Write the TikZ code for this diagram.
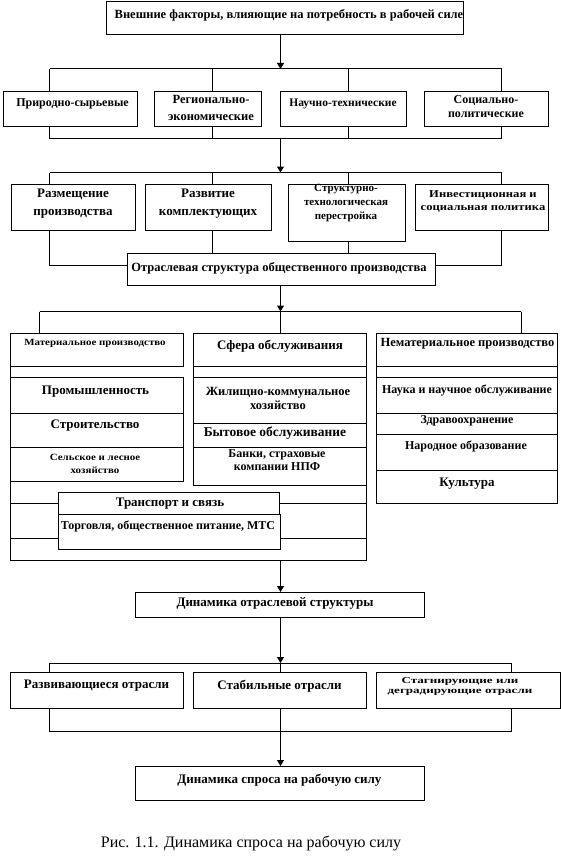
\documentclass[tikz,border=0pt]{standalone}
\usepackage{fontspec}
\setmainfont{Liberation Serif}
\newfontfamily\stA[FakeStretch=1.15]{Liberation Serif}
\newfontfamily\stB[FakeStretch=1.2]{Liberation Serif}
\newfontfamily\stC[FakeStretch=1.45]{Liberation Serif}
\usetikzlibrary{arrows.meta}
\tikzset{
  bx/.style={draw, line width=1pt, fill=white, inner sep=0pt, outer sep=0pt},
  ln/.style={line width=1pt},
  arr/.style={line width=1pt, -{Triangle[width=7pt,length=6pt]}},
  tx/.style={inner sep=0pt, align=center}
}
\newcommand\fs[2]{\fontsize{#1}{#2}\selectfont}
\newcommand\mkbox[5]{\node[bx,anchor=north west,minimum width={#4-#2},minimum height={#5-#3}] (#1) at (#2,#3) {};}
\begin{document}
\begin{tikzpicture}[x=1pt,y=-1pt]
\useasboundingbox (0,0) rectangle (561,864);
% ---------- top ----------
\mkbox{top}{106}{2}{463}{35}
\node[tx,font=\bfseries\fs{12.5}{14}] (topt) at (289,15) {Внешние факторы, влияющие на потребность в рабочей силе};
% ---------- row 2 ----------
\mkbox{ra}{3}{92}{137}{126.5}
\mkbox{rb}{154}{92}{261}{126.5}
\mkbox{rc}{280.5}{92}{406}{126.5}
\mkbox{rd}{424.5}{92}{548.5}{126.5}
\node[tx,font=\bfseries\fs{12}{14}] (rat) at (72.5,104) {Природно-сырьевые};
\node[tx,font=\bfseries\fs{12.5}{17}] (rbt) at (211,108) {Регионально-\\экономические};
\node[tx,font=\bfseries\fs{11.5}{14}] (rct) at (343,104) {Научно-технические};
\node[tx,font=\bfseries\fs{12}{14}] (rdt) at (486,106.3) {Социально-\\политические};
% bars 1,2
\coordinate (b1l) at (49.5,69); \coordinate (b1b) at (212.5,69); \coordinate (b1) at (280.5,69);
\coordinate (b1c) at (348,69); \coordinate (b1r) at (501.7,69);
\draw[arr] (top.south -| b1) -- (b1);
\draw[ln] (b1l) -- (b1r);
\draw[ln] (b1l) -- (ra.north -| b1l);
\draw[ln] (b1b) -- (rb.north -| b1b);
\draw[ln] (b1c) -- (rc.north -| b1c);
\draw[ln] (b1r) -- (rd.north -| b1r);
\coordinate (b2l) at (49.5,138); \coordinate (b2b) at (212.5,138); \coordinate (b2) at (280.5,138);
\coordinate (b2c) at (348,138); \coordinate (b2r) at (501.7,138);
\draw[ln] (ra.south -| b2l) -- (b2l) -- (b2r) -- (rd.south -| b2r);
\draw[ln] (rb.south -| b2b) -- (b2b);
\draw[ln] (rc.south -| b2c) -- (b2c);
\coordinate (b3l) at (49.5,172.5); \coordinate (b3b) at (212.5,172.5); \coordinate (b3) at (280.5,172.5);
\coordinate (b3c) at (348,172.5); \coordinate (b3r) at (501.7,172.5);
\draw[arr] (b2) -- (b3);
\draw[ln] (b3l) -- (b3r);
% ---------- row 3 ----------
\mkbox{sa}{11}{184}{135}{230}
\mkbox{sb}{145}{184}{271}{230}
\mkbox{sc}{288.5}{184}{405}{241}
\mkbox{sd}{415.5}{184}{548.5}{230}
\node[tx,font=\bfseries\fs{13}{18}] (sat) at (73,204) {Размещение\\производства};
\node[tx,font=\bfseries\fs{13}{18}] (sbt) at (208,204) {Развитие\\комплектующих};
\node[tx,font=\bfseries\fs{11}{13.7}] (sct) at (346,203) {Структурно-\\технологическая\\перестройка};
\node[tx,font=\stB\bfseries\fs{10.5}{13.3}] (sdt) at (483,201.7) {Инвестиционная и\\социальная политика};
\draw[ln] (b3l) -- (sa.north -| b3l);
\draw[ln] (b3b) -- (sb.north -| b3b);
\draw[ln] (b3c) -- (sc.north -| b3c);
\draw[ln] (b3r) -- (sd.north -| b3r);
% ---------- branch structure ----------
\mkbox{otr}{127}{253}{435}{285}
\node[tx,font=\bfseries\fs{12.5}{14}] (otrt) at (279,268) {Отраслевая структура общественного производства};
\coordinate (jl) at (49.5,265); \coordinate (jr) at (501.7,265);
\draw[ln] (sa.south -| jl) -- (jl) -- (otr.west |- jl);
\draw[ln] (sb.south -| b3b) -- (otr.north -| b3b);
\draw[ln] (sc.south -| b3c) -- (otr.north -| b3c);
\draw[ln] (sd.south -| jr) -- (jr) -- (otr.east |- jr);
\coordinate (b4l) at (39.5,311.5); \coordinate (b4) at (280.5,311.5); \coordinate (b4r) at (521,311.5);
\draw[arr] (otr.south -| b4) -- (b4);
\draw[ln] (b4l) -- (b4r);
% ---------- middle frames ----------
\draw[ln] (10.7,366) -- (10.7,560) -- (366,560) -- (366,366);
\draw[ln] (193.3,366) -- (193.3,377);
\draw[ln] (10.7,503) -- (366,503);
\draw[ln] (10.7,538) -- (366,538);
\mkbox{nemf}{376}{333}{557}{503}
% left column
\mkbox{mat}{10.7}{333}{183.3}{366}
\mkbox{prm}{10.7}{377}{183.3}{413}
\mkbox{str}{10.7}{413}{183.3}{447}
\mkbox{sel}{10.7}{447}{183.3}{481}
% middle column
\mkbox{sfe}{193.3}{333}{366}{366}
\mkbox{zhk}{193.3}{377}{366}{423.3}
\mkbox{byt}{193.3}{423.3}{366}{447}
\mkbox{ban}{193.3}{447}{366}{485}
% right column
\mkbox{nem}{376}{333}{557}{366}
\mkbox{nau}{376}{377}{557}{413}
\mkbox{zdr}{376}{413}{557}{434}
\mkbox{nar}{376}{434}{557}{470}
\mkbox{kul}{376}{470}{557}{503}
% overlapping boxes
\mkbox{trn}{58.3}{492.3}{279.3}{514}
\mkbox{tor}{58.3}{514}{280.7}{549.3}
\draw[ln] (b4l) -- (mat.north -| b4l);
\draw[ln] (b4) -- (sfe.north -| b4);
\draw[ln] (b4r) -- (nem.north -| b4r);
% texts
\node[tx,font=\stA\bfseries\fs{9.5}{12}] (matt) at (95,343.3) {Материальное производство};
\node[tx,font=\bfseries\fs{13}{15}] (prmt) at (95.5,391.7) {Промышленность};
\node[tx,font=\bfseries\fs{13}{15}] (strt) at (95,426) {Строительство};
\node[tx,font=\stA\bfseries\fs{9.5}{12.3}] (selt) at (95,464) {Сельское и лесное\\хозяйство};
\node[tx,font=\bfseries\fs{13}{15}] (sfet) at (280,346) {Сфера обслуживания};
\node[tx,font=\bfseries\fs{12.5}{14}] (zhkt) at (278,398) {Жилищно-коммунальное\\хозяйство};
\node[tx,font=\bfseries\fs{13.5}{15}] (bytt) at (275,432.7) {Бытовое обслуживание};
\node[tx,font=\bfseries\fs{12}{13.4}] (bant) at (277,460) {Банки, страховые\\компании НПФ};
\node[tx,font=\bfseries\fs{12.5}{14}] (nemt) at (467.5,344) {Нематериальное производство};
\node[tx,font=\bfseries\fs{12}{14}] (naut) at (467,390) {Наука и научное обслуживание};
\node[tx,font=\bfseries\fs{12}{14}] (zdrt) at (467,421) {Здравоохранение};
\node[tx,font=\bfseries\fs{12}{14}] (nart) at (466,446.7) {Народное образование};
\node[tx,font=\bfseries\fs{13}{15}] (kult) at (467,483.3) {Культура};
\node[tx,font=\bfseries\fs{13}{15}] (trnt) at (170,503.3) {Транспорт и связь};
\node[tx,font=\bfseries\fs{12}{14}] (tort) at (168,526.7) {Торговля, общественное питание, МТС};
% ---------- dynamics ----------
\coordinate (fb) at (280.5,560);
\mkbox{dyn}{135}{592}{424.7}{617}
\node[tx,font=\bfseries\fs{13}{15}] (dynt) at (275,603) {Динамика отраслевой структуры};
\draw[arr] (fb) -- (dyn.north -| fb);
\coordinate (b5l) at (49.4,663); \coordinate (b5) at (280.5,663); \coordinate (b5r) at (511.6,663);
\draw[arr] (dyn.south -| b5) -- (b5);
\draw[ln] (b5l) -- (b5r);
\mkbox{rz}{10.7}{672}{183.2}{708}
\mkbox{st}{193.2}{672}{366.7}{708}
\mkbox{sg}{376.4}{672}{560}{708}
\node[tx,font=\bfseries\fs{13}{15}] (rzt) at (96.5,686) {Развивающиеся отрасли};
\node[tx,font=\bfseries\fs{13}{15}] (stt) at (279.5,686) {Стабильные отрасли};
\node[tx,font=\stC\bfseries\fs{9}{10}] (sgt) at (460,686) {Стагнирующие или\\деградирующие отрасли};
\draw[ln] (b5l) -- (rz.north -| b5l);
\draw[ln] (b5) -- (st.north -| b5);
\draw[ln] (b5r) -- (sg.north -| b5r);
\coordinate (b6l) at (49.4,731); \coordinate (b6) at (280.5,731); \coordinate (b6r) at (511.6,731);
\draw[ln] (rz.south -| b6l) -- (b6l) -- (b6r) -- (sg.south -| b6r);
\draw[ln] (st.south -| b6) -- (b6);
\mkbox{fin}{135}{766}{424.7}{800}
\node[tx,font=\bfseries\fs{13}{15}] (fint) at (279.5,780) {Динамика спроса на рабочую силу};
\draw[arr] (b6) -- (fin.north -| b6);
% caption
\node[tx,font=\fs{16}{18}] (cap) at (251,843) {Рис. 1.1. Динамика спроса на рабочую силу};
\end{tikzpicture}
\end{document}
